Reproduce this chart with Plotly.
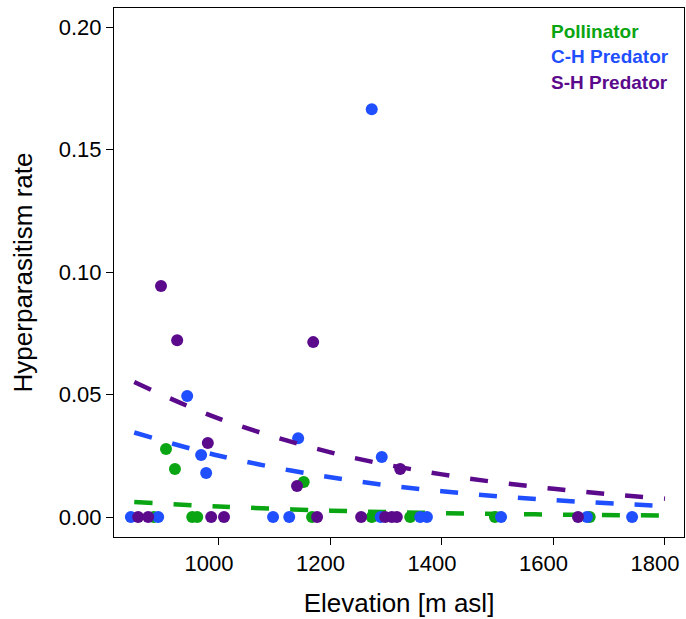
import plotly.graph_objects as go

# ---- data ----
groups = ["Pollinator", "C-H Predator", "S-H Predator"]
colors = ["#0AA512", "#1F4FFF", "#5B0A8C"]

poll_elev = [883, 905, 921, 952, 961, 1152, 1167, 1274, 1343, 1495, 1665]
poll_rate = [0.0, 0.0278, 0.0196, 0.0, 0.0, 0.0143, 0.0, 0.0, 0.0, 0.0, 0.0]

ch_elev = [842, 891, 943, 968, 977, 1097, 1126, 1142, 1274, 1290, 1292, 1361, 1373, 1506, 1660, 1741]
ch_rate = [0.0, 0.0, 0.0494, 0.0253, 0.0180, 0.0, 0.0, 0.0322, 0.1665, 0.0, 0.0245, 0.0, 0.0, 0.0, 0.0, 0.0]

sh_elev = [855, 873, 896, 925, 980, 986, 1009, 1140, 1169, 1176, 1255, 1298, 1310, 1319, 1325, 1644]
sh_rate = [0.0, 0.0, 0.0943, 0.0722, 0.0302, 0.0, 0.0, 0.0127, 0.0714, 0.0, 0.0, 0.0, 0.0, 0.0, 0.0196, 0.0]

# fitted trend curves (read at selected elevations)
trend_elev = [848, 1000, 1200, 1400, 1600, 1800]
poll_trend = [0.0061, 0.0043, 0.0026, 0.0016, 0.0010, 0.0006]
ch_trend = [0.0345, 0.0250, 0.0162, 0.0105, 0.0069, 0.0045]
sh_trend = [0.0551, 0.0402, 0.0264, 0.0174, 0.0115, 0.0075]

x_ticks = [1000, 1200, 1400, 1600, 1800]
y_ticks = [0.00, 0.05, 0.10, 0.15, 0.20]
y_tick_text = ["0.00", "0.05", "0.10", "0.15", "0.20"]

series = [
    (poll_elev, poll_rate, poll_trend),
    (ch_elev, ch_rate, ch_trend),
    (sh_elev, sh_rate, sh_trend),
]

fig = go.Figure()
for name, col, (ex, ry, tr) in zip(groups, colors, series):
    fig.add_trace(go.Scatter(
        x=ex, y=ry, mode="markers", name=name, showlegend=False,
        marker=dict(color=col, size=12, line=dict(width=0)),
    ))
    fig.add_trace(go.Scatter(
        x=trend_elev, y=tr, mode="lines", showlegend=False,
        line=dict(color=col, width=4.5, dash="18px,21px", shape="spline"),
    ))

for i, (name, col) in enumerate(zip(groups, colors)):
    fig.add_annotation(
        x=0.763, y=[0.9565, 0.9074, 0.860][i], xref="paper", yref="paper",
        xanchor="left", yanchor="middle", text="<b>%s</b>" % name, showarrow=False,
        font=dict(family="Arial, Liberation Sans", size=19, color=col),
    )

fig.update_layout(
    width=686, height=619,
    margin=dict(l=114, r=2, t=8, b=82),
    paper_bgcolor="white", plot_bgcolor="white",
    font=dict(family="Arial, Liberation Sans", size=22, color="black"),
    xaxis=dict(
        range=[811.7, 1834.1], tickvals=x_ticks, ticks="outside", ticklen=7,
        tickwidth=1, tickcolor="black", showgrid=False, zeroline=False,
        showline=True, linecolor="black", linewidth=1, mirror=True,
        title=dict(text="Elevation [m asl]", standoff=18),
        tickfont=dict(size=22), ticklabeloverflow="allow", automargin=False,
        ticklabelshift=-10,
    ),
    yaxis=dict(
        range=[-0.00816, 0.2078], tickvals=y_ticks, ticktext=y_tick_text,
        ticks="outside", ticklen=7, tickwidth=1, tickcolor="black",
        showgrid=False, zeroline=False,
        showline=True, linecolor="black", linewidth=1, mirror=True,
        title=dict(text="Hyperparasitism rate", standoff=18),
        tickfont=dict(size=22), automargin=False,
    ),
)

fig.write_html("out.html")
